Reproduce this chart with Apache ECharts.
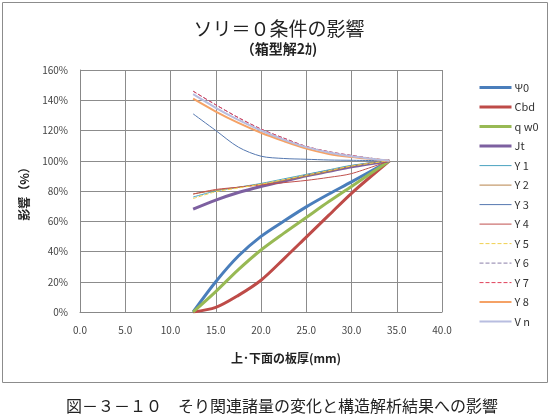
<!DOCTYPE html>
<html>
<head>
<meta charset="utf-8">
<script src="https://cdn.jsdelivr.net/npm/echarts@6/dist/echarts.min.js"></script>
<style>
  html, body { margin: 0; padding: 0; background: #fff; }
  #chart { width: 550px; height: 420px; }
</style>
</head>
<body>
<div id="chart"></div>
<script>
// 板厚 (mm)
const thickness = [12.5, 15, 17.5, 20, 22.5, 25, 27.5, 30, 34.2]

// 影響 (%)
const psi0 = [0, 20, 37, 50, 60, 69.5, 78, 86, 100]
const cbd = [0, 3, 11, 21, 35, 49.5, 64, 78.5, 100]
const qw0 = [0, 13.5, 28, 41, 52, 62.5, 73, 83, 100]
const jt = [68, 74, 79, 83, 86.5, 90, 93, 96, 100]
const y1 = [76, 80, 82.5, 85, 88, 91, 94, 97, 100]
const y2 = [78, 80.5, 82.5, 84.5, 87, 90, 93, 96.5, 100]
const y3 = [131, 120, 109, 103, 101.5, 101, 100.5, 100.3, 100]
const y4 = [78, 81, 82.5, 84, 85.5, 87, 89, 91.5, 100]
const y5 = [75, 79.5, 82, 84.5, 87.5, 90.5, 93.5, 96.5, 100]
const y6 = [146, 137, 128.5, 121, 115, 109.5, 106, 103.5, 100]
const y7 = [146, 137, 128.5, 121, 115, 109.5, 106, 103.5, 100]
const y8 = [141, 132.5, 125, 118.5, 113, 108, 104.5, 102.5, 100]
const vn = [144, 135, 127, 120, 114, 109, 105.5, 103, 100]

const xTicks = [0, 5, 10, 15, 20, 25, 30, 35, 40]
const yTicks = [0, 20, 40, 60, 80, 100, 120, 140, 160]

const seriesDefs = [
  { name: 'Ψ0', data: psi0, color: '#4a7ebb', width: 3 },
  { name: 'Cbd', data: cbd, color: '#be4b48', width: 3 },
  { name: 'q w0', data: qw0, color: '#98b954', width: 3 },
  { name: 'Jt', data: jt, color: '#7d60a0', width: 3 },
  { name: 'Y 1', data: y1, color: '#4aa3bf', width: 1 },
  { name: 'Y 2', data: y2, color: '#b8834a', width: 1 },
  { name: 'Y 3', data: y3, color: '#5578b0', width: 1 },
  { name: 'Y 4', data: y4, color: '#c0504d', width: 1 },
  { name: 'Y 5', data: y5, color: '#f0d050', width: 1, type: 'dashed' },
  { name: 'Y 6', data: y6, color: '#8a7fa8', width: 1, type: 'dashed' },
  { name: 'Y 7', data: y7, color: '#e0405a', width: 1, type: 'dashed' },
  { name: 'Y 8', data: y8, color: '#f5a266', width: 2 },
  { name: 'V n', data: vn, color: '#b8bde0', width: 2 },
]

const chart = echarts.init(document.getElementById('chart'))

chart.setOption({
  animation: false,
  textStyle: { fontFamily: '"Noto Sans CJK JP", "Noto Sans", sans-serif' },
  title: [
    {
      text: 'ソリ＝０条件の影響',
      left: 274, top: 14, textAlign: 'center',
      textStyle: { fontSize: 19, fontWeight: 'normal', color: '#222' },
    },
    {
      text: '（箱型解2ｶ)',
      left: 274, top: 37, textAlign: 'center',
      textStyle: { fontSize: 14, fontWeight: 'bold', color: '#222' },
    },
    {
      text: '図－３－１０　そり関連諸量の変化と構造解析結果への影響',
      left: 277, top: 393, textAlign: 'center',
      textStyle: { fontSize: 16, fontWeight: 'normal', color: '#222' },
    },
  ],
  graphic: [{
    type: 'rect',
    shape: { x: 2.5, y: 2.5, width: 545, height: 380 },
    style: { fill: 'none', stroke: '#8c8c8c', lineWidth: 1 },
    silent: true,
  }],
  legend: {
    orient: 'vertical',
    left: 473, top: 77,
    itemWidth: 32, itemHeight: 14, itemGap: 8.3,
    itemStyle: { opacity: 0 },
    textStyle: { fontSize: 11, color: '#333', padding: [0, 0, 0, -2] },
    data: seriesDefs.map((s) => ({
      name: s.name,
      lineStyle: { width: s.width, color: s.color, type: s.type || 'solid' },
    })),
  },
  grid: { left: 80, right: 108, top: 70, bottom: 108 },
  xAxis: {
    type: 'value',
    min: xTicks[0], max: xTicks[xTicks.length - 1], interval: 5,
    name: '上･下面の板厚(mm)',
    nameLocation: 'middle', nameGap: 40,
    nameTextStyle: { fontSize: 12, fontWeight: 'bold', color: '#222', padding: [0, 0, 0, 50] },
    axisLine: { lineStyle: { color: '#888' } },
    axisTick: { show: false },
    axisLabel: { fontSize: 10, color: '#444', margin: 13, formatter: (v) => v.toFixed(1) },
    splitLine: { lineStyle: { color: '#8c8c8c' } },
  },
  yAxis: {
    type: 'value',
    min: yTicks[0], max: yTicks[yTicks.length - 1], interval: 20,
    name: '影響（%）',
    nameLocation: 'middle', nameGap: 50, nameRotate: 90,
    nameTextStyle: { fontSize: 12, fontWeight: 'bold', color: '#222' },
    axisLine: { show: true, lineStyle: { color: '#888' } },
    axisTick: { show: false },
    axisLabel: { fontSize: 10, color: '#444', margin: 12, formatter: '{value}%' },
    splitLine: { lineStyle: { color: '#8c8c8c' } },
  },
  series: seriesDefs.map((s) => ({
    name: s.name,
    type: 'line',
    smooth: 0.3,
    symbol: 'none',
    data: thickness.map((x, i) => [x, s.data[i]]),
    lineStyle: { color: s.color, width: s.width, type: s.type || 'solid' },
    itemStyle: { color: s.color },
  })),
})
</script>
</body>
</html>
